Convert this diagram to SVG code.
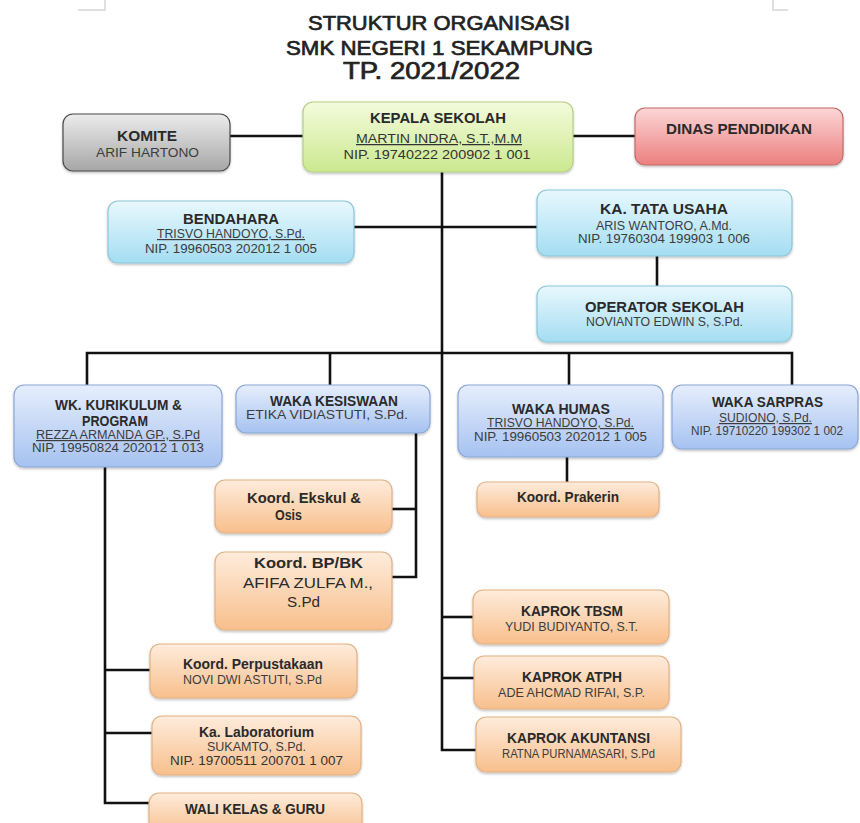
<svg xmlns="http://www.w3.org/2000/svg" width="860" height="823" viewBox="0 0 860 823">
<defs>
<linearGradient id="gGray" x1="0" y1="0" x2="0" y2="1"><stop offset="0" stop-color="#ececec"/><stop offset="1" stop-color="#a6a6a6"/></linearGradient>
<linearGradient id="gGreen" x1="0" y1="0" x2="0" y2="1"><stop offset="0" stop-color="#f4fbdc"/><stop offset="1" stop-color="#cbe98f"/></linearGradient>
<linearGradient id="gRed" x1="0" y1="0" x2="0" y2="1"><stop offset="0" stop-color="#fcd6d6"/><stop offset="1" stop-color="#ec7f7f"/></linearGradient>
<linearGradient id="gCyan" x1="0" y1="0" x2="0" y2="1"><stop offset="0" stop-color="#e8f8fd"/><stop offset="1" stop-color="#a4ddf2"/></linearGradient>
<linearGradient id="gBlue" x1="0" y1="0" x2="0" y2="1"><stop offset="0" stop-color="#e6eefc"/><stop offset="1" stop-color="#a6c2f1"/></linearGradient>
<linearGradient id="gOrange" x1="0" y1="0" x2="0" y2="1"><stop offset="0" stop-color="#feecdc"/><stop offset="1" stop-color="#f8bf8c"/></linearGradient>
<filter id="sh" x="-10%" y="-10%" width="120%" height="130%"><feDropShadow dx="0" dy="1.5" stdDeviation="1.2" flood-color="#000" flood-opacity="0.25"/></filter>
</defs>
<style>
text{font-family:"Liberation Sans",Arial,sans-serif;text-anchor:middle;fill:#2a2a2a}
.h{font-size:21px;fill:#222;stroke:#222;stroke-width:0.7}
.h3{font-size:23px}
.t{font-size:14.5px;font-weight:bold}
.t2{font-size:14.5px;font-weight:bold}
.k{font-size:15.5px;font-weight:bold}
.kr{font-size:15.5px}
.s{font-size:12px;fill:#3c3c3c}
.s2{font-size:12.5px;fill:#333}
.u{text-decoration:underline}
rect{filter:url(#sh)}
.gray{fill:url(#gGray);stroke:#4a4a4a;stroke-width:1.2}
.green{fill:url(#gGreen);stroke:#b4cf86;stroke-width:1.2}
.red{fill:url(#gRed);stroke:#c46a6a;stroke-width:1.2}
.cyan{fill:url(#gCyan);stroke:#8cc6da;stroke-width:1.2}
.blue{fill:url(#gBlue);stroke:#8aa6d6;stroke-width:1.2}
.orange{fill:url(#gOrange);stroke:#e2b184;stroke-width:1.2}
.c{fill:none;stroke:#111;stroke-width:2.6}
.m{fill:none;stroke:#d6d6d6;stroke-width:1.5}
</style>
<rect x="0" y="0" width="860" height="823" fill="#fff" style="filter:none"/>
<path class="m" d="M78 10 H105 V0"/>
<path class="m" d="M773 0 V10 H788"/>
<g id="title">
<text class="h" x="439" y="30" textLength="262" lengthAdjust="spacingAndGlyphs">STRUKTUR ORGANISASI</text>
<text class="h" x="439.5" y="55" textLength="307" lengthAdjust="spacingAndGlyphs">SMK NEGERI 1 SEKAMPUNG</text>
<text class="h h3" x="431.5" y="79" textLength="177" lengthAdjust="spacingAndGlyphs">TP. 2021/2022</text>
</g>
<g id="connectors">
<path class="c" d="M230 136 H303"/>
<path class="c" d="M573 136 H635"/>
<path class="c" d="M442 172 V750 H476"/>
<path class="c" d="M354 227 H537"/>
<path class="c" d="M657 256 V286"/>
<path class="c" d="M87 385 V353 H792 V385"/>
<path class="c" d="M330 353 V385"/>
<path class="c" d="M569 353 V385"/>
<path class="c" d="M416 433 V577 H392"/>
<path class="c" d="M392 509 H416"/>
<path class="c" d="M105 467 V803 H149"/>
<path class="c" d="M105 670 H150"/>
<path class="c" d="M105 733 H152"/>
<path class="c" d="M567 457 V482"/>
<path class="c" d="M442 617 H473"/>
<path class="c" d="M442 678 H474"/>
</g>
<g id="komite">
<rect class="gray" x="63" y="114" width="167" height="57" rx="10"/>
<text class="t" x="147" y="141" textLength="60" lengthAdjust="spacingAndGlyphs">KOMITE</text>
<text class="s" x="147.5" y="157" textLength="103" lengthAdjust="spacingAndGlyphs">ARIF HARTONO</text>
</g>
<g id="kepala-sekolah">
<rect class="green" x="303" y="102" width="270" height="70" rx="10"/>
<text class="t" x="438" y="123" textLength="136" lengthAdjust="spacingAndGlyphs">KEPALA SEKOLAH</text>
<text class="s2 u" x="439" y="143" textLength="166" lengthAdjust="spacingAndGlyphs">MARTIN INDRA, S.T.,M.M</text>
<text class="s2" x="437" y="159" textLength="187" lengthAdjust="spacingAndGlyphs">NIP. 19740222 200902 1 001</text>
</g>
<g id="dinas-pendidikan">
<rect class="red" x="635" y="108" width="208" height="57" rx="10"/>
<text class="t" x="739" y="134" textLength="146" lengthAdjust="spacingAndGlyphs">DINAS PENDIDIKAN</text>
</g>
<g id="bendahara">
<rect class="cyan" x="108" y="201" width="246" height="62" rx="10"/>
<text class="t" x="231" y="224" textLength="96" lengthAdjust="spacingAndGlyphs">BENDAHARA</text>
<text class="s u" x="231" y="238" textLength="148" lengthAdjust="spacingAndGlyphs">TRISVO HANDOYO, S.Pd.</text>
<text class="s" x="231" y="253" textLength="172" lengthAdjust="spacingAndGlyphs">NIP. 19960503 202012 1 005</text>
</g>
<g id="ka-tata-usaha">
<rect class="cyan" x="537" y="190" width="255" height="66" rx="10"/>
<text class="t" x="664" y="214" textLength="128" lengthAdjust="spacingAndGlyphs">KA. TATA USAHA</text>
<text class="s" x="664" y="230" textLength="136" lengthAdjust="spacingAndGlyphs">ARIS WANTORO, A.Md.</text>
<text class="s" x="664" y="243" textLength="172" lengthAdjust="spacingAndGlyphs">NIP. 19760304 199903 1 006</text>
</g>
<g id="operator-sekolah">
<rect class="cyan" x="537" y="286" width="255" height="56" rx="10"/>
<text class="t" x="664.5" y="312" textLength="159" lengthAdjust="spacingAndGlyphs">OPERATOR SEKOLAH</text>
<text class="s" x="664.5" y="326" textLength="157" lengthAdjust="spacingAndGlyphs">NOVIANTO EDWIN S, S.Pd.</text>
</g>
<g id="wk-kurikulum">
<rect class="blue" x="14" y="385" width="208" height="82" rx="10"/>
<text class="t" x="118.5" y="410" textLength="127" lengthAdjust="spacingAndGlyphs">WK. KURIKULUM &amp;</text>
<text class="t" x="115" y="426" textLength="66" lengthAdjust="spacingAndGlyphs">PROGRAM</text>
<text class="s u" x="118" y="439" textLength="164" lengthAdjust="spacingAndGlyphs">REZZA ARMANDA GP., S.Pd</text>
<text class="s" x="118" y="452" textLength="172" lengthAdjust="spacingAndGlyphs">NIP. 19950824 202012 1 013</text>
</g>
<g id="waka-kesiswaan">
<rect class="blue" x="236" y="385" width="194" height="48" rx="10"/>
<text class="t" x="334" y="406" textLength="128" lengthAdjust="spacingAndGlyphs">WAKA KESISWAAN</text>
<text class="s" x="327" y="419" textLength="162" lengthAdjust="spacingAndGlyphs">ETIKA VIDIASTUTI, S.Pd.</text>
</g>
<g id="waka-humas">
<rect class="blue" x="458" y="385" width="205" height="72" rx="10"/>
<text class="t" x="561" y="414" textLength="98" lengthAdjust="spacingAndGlyphs">WAKA HUMAS</text>
<text class="s u" x="560.5" y="427" textLength="147" lengthAdjust="spacingAndGlyphs">TRISVO HANDOYO, S.Pd.</text>
<text class="s" x="560.5" y="441" textLength="173" lengthAdjust="spacingAndGlyphs">NIP. 19960503 202012 1 005</text>
</g>
<g id="waka-sarpras">
<rect class="blue" x="672" y="385" width="186" height="64" rx="10"/>
<text class="t" x="767.5" y="407" textLength="111" lengthAdjust="spacingAndGlyphs">WAKA SARPRAS</text>
<text class="s u" x="765.5" y="422" textLength="93" lengthAdjust="spacingAndGlyphs">SUDIONO, S.Pd.</text>
<text class="s" x="767" y="435" textLength="152" lengthAdjust="spacingAndGlyphs">NIP. 19710220 199302 1 002</text>
</g>
<g id="koord-ekskul">
<rect class="orange" x="215" y="480" width="177" height="53" rx="10"/>
<text class="k" x="304" y="503" textLength="114" lengthAdjust="spacingAndGlyphs">Koord. Ekskul &amp;</text>
<text class="k" x="288.5" y="520" textLength="27" lengthAdjust="spacingAndGlyphs">Osis</text>
</g>
<g id="koord-bpbk">
<rect class="orange" x="215" y="552" width="177" height="78" rx="10"/>
<text class="k" x="308.5" y="568" textLength="109" lengthAdjust="spacingAndGlyphs">Koord. BP/BK</text>
<text class="kr" x="308" y="588" textLength="130" lengthAdjust="spacingAndGlyphs">AFIFA ZULFA M.,</text>
<text class="kr" x="303.5" y="607" textLength="33" lengthAdjust="spacingAndGlyphs">S.Pd</text>
</g>
<g id="koord-prakerin">
<rect class="orange" x="477" y="482" width="182" height="35" rx="9"/>
<text class="t2" x="568" y="502" textLength="102" lengthAdjust="spacingAndGlyphs">Koord. Prakerin</text>
</g>
<g id="koord-perpustakaan">
<rect class="orange" x="150" y="644" width="207" height="54" rx="10"/>
<text class="t2" x="253" y="669" textLength="140" lengthAdjust="spacingAndGlyphs">Koord. Perpustakaan</text>
<text class="s" x="252.5" y="684" textLength="139" lengthAdjust="spacingAndGlyphs">NOVI DWI ASTUTI, S.Pd</text>
</g>
<g id="ka-laboratorium">
<rect class="orange" x="152" y="716" width="209" height="59" rx="10"/>
<text class="t2" x="256.5" y="737" textLength="115" lengthAdjust="spacingAndGlyphs">Ka. Laboratorium</text>
<text class="s" x="256.5" y="751" textLength="99" lengthAdjust="spacingAndGlyphs">SUKAMTO, S.Pd.</text>
<text class="s2" x="256.5" y="765" textLength="173" lengthAdjust="spacingAndGlyphs">NIP. 19700511 200701 1 007</text>
</g>
<g id="wali-kelas">
<rect class="orange" x="149" y="793" width="213" height="42" rx="10"/>
<text class="t2" x="255" y="814" textLength="140" lengthAdjust="spacingAndGlyphs">WALI KELAS &amp; GURU</text>
</g>
<g id="kaprok-tbsm">
<rect class="orange" x="473" y="590" width="196" height="54" rx="10"/>
<text class="t" x="572" y="616" textLength="102" lengthAdjust="spacingAndGlyphs">KAPROK TBSM</text>
<text class="s" x="571.5" y="631" textLength="133" lengthAdjust="spacingAndGlyphs">YUDI BUDIYANTO, S.T.</text>
</g>
<g id="kaprok-atph">
<rect class="orange" x="474" y="656" width="195" height="53" rx="10"/>
<text class="t" x="572" y="682" textLength="100" lengthAdjust="spacingAndGlyphs">KAPROK ATPH</text>
<text class="s" x="571.5" y="697" textLength="147" lengthAdjust="spacingAndGlyphs">ADE AHCMAD RIFAI, S.P.</text>
</g>
<g id="kaprok-akuntansi">
<rect class="orange" x="476" y="717" width="205" height="55" rx="10"/>
<text class="t" x="578.5" y="743" textLength="143" lengthAdjust="spacingAndGlyphs">KAPROK AKUNTANSI</text>
<text class="s" x="578.5" y="758" textLength="153" lengthAdjust="spacingAndGlyphs">RATNA PURNAMASARI, S.Pd</text>
</g>
</svg>
